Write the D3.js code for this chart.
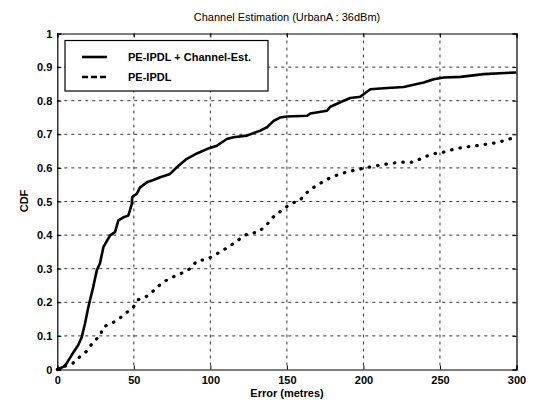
<!DOCTYPE html>
<html><head><meta charset="utf-8">
<script src="https://cdn.jsdelivr.net/npm/d3@7"></script>
<style>body{margin:0;background:#fff}svg{display:block}text{font-family:"Liberation Sans",Arial,sans-serif}</style>
</head><body><svg id="c" width="533" height="405"></svg>
<script>
const titleText = "Channel Estimation (UrbanA : 36dBm)";
const xLabel = "Error (metres)";
const yLabel = "CDF";
const xTicks = [0,50,100,150,200,250,300];
const yTicks = [0,0.1,0.2,0.3,0.4,0.5,0.6,0.7,0.8,0.9,1];
const seriesNames = ["PE-IPDL + Channel-Est.", "PE-IPDL"];
const estX = [0,3.9,6.1,9.4,13.7,16,18.1,20.3,23.5,25.8,27.9,30.1,34.5,37.7,39.9,43.2,46.4,48.7,48.9,51.9,54.1,58.5,62.8,67.2,73.7,78.1,84.6,91.2,97.7,104.2,110.8,115.1,123.9,132.6,137,141.3,145.6,150,163.1,165.3,176.2,178.4,187.1,191.4,198,200.1,204.5,213.2,226.3,239.4,245.9,252.5,263.4,278.6,300];
const estY = [0,0.008,0.018,0.043,0.073,0.097,0.137,0.186,0.246,0.295,0.316,0.364,0.399,0.409,0.444,0.453,0.458,0.493,0.513,0.523,0.542,0.557,0.564,0.572,0.582,0.602,0.627,0.643,0.656,0.666,0.686,0.691,0.696,0.711,0.721,0.740,0.750,0.753,0.755,0.762,0.770,0.782,0.800,0.808,0.812,0.819,0.834,0.837,0.841,0.854,0.864,0.869,0.871,0.879,0.884];
const ipdlX = [0,3.9,10,14.8,19.6,23.5,27.9,30.1,36.2,40.6,45.4,49.7,53,58.5,63.9,68.3,74.8,81.4,86.8,91.2,97.7,103.8,109,114.1,118.4,124.3,131.5,137,141.3,146.8,152.2,158.3,162.7,167.4,172.9,178.8,184.9,191,198,205.6,213.2,218.7,225.2,232.8,239.4,245.9,252.5,260.1,266.6,273.8,280.8,288.4,294.9,300];
const ipdlY = [0,0.008,0.018,0.038,0.056,0.083,0.099,0.127,0.139,0.152,0.170,0.186,0.208,0.218,0.238,0.258,0.274,0.287,0.300,0.323,0.328,0.343,0.357,0.372,0.386,0.404,0.409,0.432,0.455,0.474,0.493,0.503,0.525,0.542,0.557,0.572,0.582,0.590,0.597,0.604,0.610,0.614,0.617,0.617,0.632,0.642,0.647,0.657,0.662,0.666,0.671,0.676,0.686,0.690];

const svg = d3.select("#c");
const L=57.3, R=516.5, T=33.5, B=369.5;
const x = d3.scaleLinear().domain([0,300]).range([L,R]);
const y = d3.scaleLinear().domain([0,1]).range([B,T]);

// grid
const g = svg.append("g");
g.selectAll(".gx").data(xTicks.slice(1,-1)).join("line")
 .attr("x1",d=>x(d)).attr("x2",d=>x(d)).attr("y1",T).attr("y2",B)
 .attr("stroke","#000").attr("stroke-width",0.8).attr("stroke-dasharray","3,4");
g.selectAll(".gy").data(yTicks.slice(1,-1)).join("line")
 .attr("y1",d=>y(d)).attr("y2",d=>y(d)).attr("x1",L).attr("x2",R)
 .attr("stroke","#000").attr("stroke-width",0.8).attr("stroke-dasharray","3,4");

// axes
const xa = svg.append("g").attr("transform",`translate(0,${B})`)
 .call(d3.axisBottom(x).tickValues(xTicks).tickSize(-4).tickPadding(7).tickFormat(d3.format("d")));
const xa2 = svg.append("g").attr("transform",`translate(0,${T})`)
 .call(d3.axisTop(x).tickValues(xTicks).tickSize(-4).tickFormat(""));
const ya = svg.append("g").attr("transform",`translate(${L},0)`)
 .call(d3.axisLeft(y).tickValues(yTicks).tickSize(-4).tickPadding(5).tickFormat(d=>d===0||d===1?String(d):d3.format(".1f")(d)));
const ya2 = svg.append("g").attr("transform",`translate(${R},0)`)
 .call(d3.axisRight(y).tickValues(yTicks).tickSize(-4).tickFormat(""));
[xa,xa2,ya,ya2].forEach(a=>{
  a.select(".domain").attr("stroke","#000").attr("stroke-width",1.2);
  a.selectAll(".tick line").attr("stroke","#000");
  a.selectAll("text").attr("fill","#000").style("font-size","11px").style("font-weight","bold").style("font-family","Liberation Sans, Arial, sans-serif");
});

// lines
const line = d3.line().x(d=>x(d[0])).y(d=>y(d[1]));
svg.append("path").datum(estX.map((v,i)=>[v,estY[i]])).attr("d",line)
 .attr("fill","none").attr("stroke","#000").attr("stroke-width",2.6).attr("stroke-linejoin","round");
svg.append("path").datum(ipdlX.map((v,i)=>[v,ipdlY[i]])).attr("d",line)
 .attr("fill","none").attr("stroke","#000").attr("stroke-width",3.2).attr("stroke-linecap","round").attr("stroke-dasharray","0.5,8");

// legend
const lg = svg.append("g");
lg.append("rect").attr("x",65).attr("y",40.5).attr("width",203).attr("height",50.5)
 .attr("fill","#fff").attr("stroke","#000").attr("stroke-width",1.2);
lg.append("line").attr("x1",82).attr("x2",107).attr("y1",57).attr("y2",57).attr("stroke","#000").attr("stroke-width",2.6);
lg.append("line").attr("x1",82).attr("x2",107).attr("y1",77).attr("y2",77).attr("stroke","#000").attr("stroke-width",2.6).attr("stroke-dasharray","6,3");
lg.selectAll("text").data(seriesNames).join("text")
 .attr("x",128).attr("y",(d,i)=>57+i*20).attr("dy","0.35em")
 .style("font-size","11px").style("font-weight","bold").text(d=>d);

// titles
svg.append("text").attr("x",287).attr("y",21).attr("text-anchor","middle").style("font-size","11px").text(titleText);
svg.append("text").attr("x",287).attr("y",397).attr("text-anchor","middle").style("font-size","11px").style("font-weight","bold").text(xLabel);
svg.append("text").attr("transform","translate(28,201) rotate(-90)").attr("text-anchor","middle").style("font-size","11px").style("font-weight","bold").text(yLabel);
</script></body></html>
